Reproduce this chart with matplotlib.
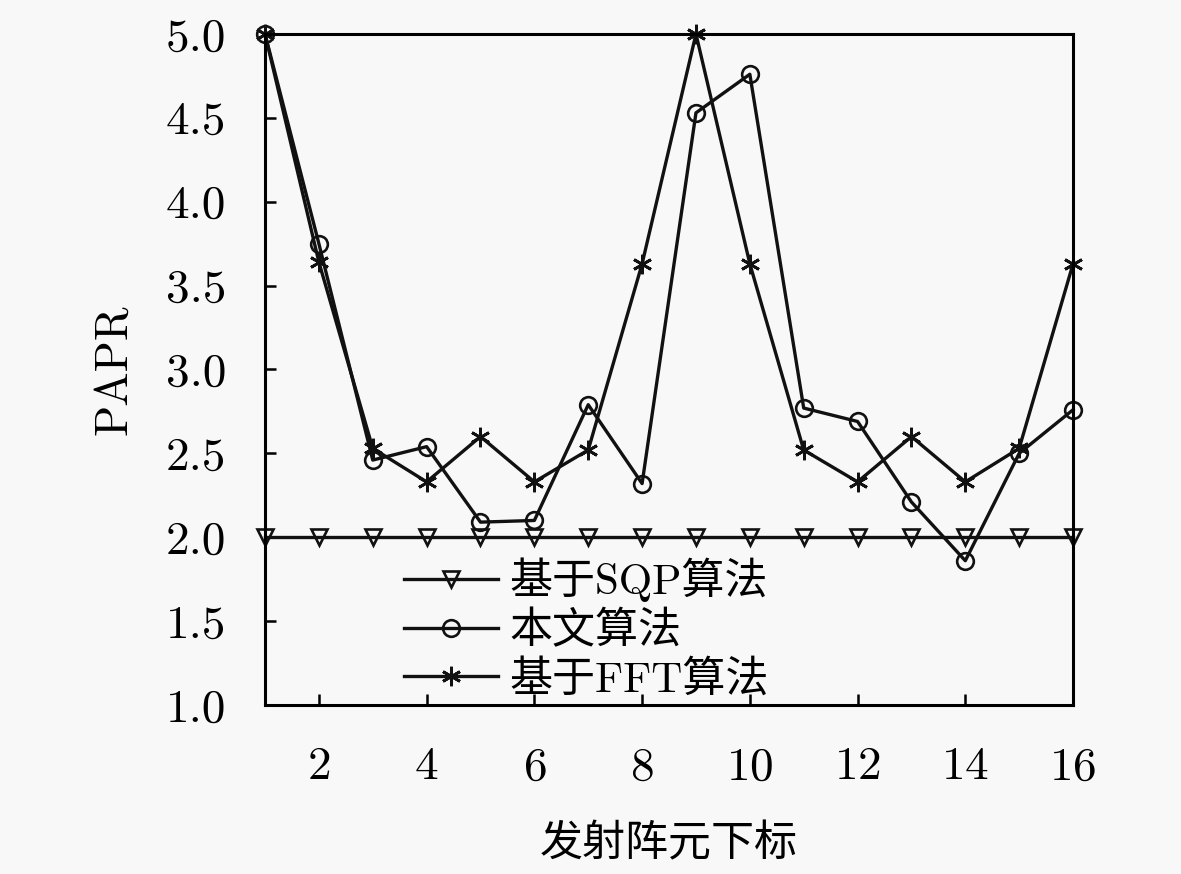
import matplotlib.pyplot as plt
import numpy as np

plt.rcParams['font.family'] = ['cmr10', 'Noto Sans CJK SC']
plt.rcParams['axes.formatter.use_mathtext'] = True

idx = np.arange(1, 17)
sqp = [2.0] * 16
ours = [5.0, 3.75, 2.46, 2.54, 2.09, 2.10, 2.79, 2.32,
        4.53, 4.76, 2.77, 2.69, 2.21, 1.86, 2.50, 2.76]
fft = [5.0, 3.64, 2.53, 2.33, 2.60, 2.33, 2.52, 3.63,
       5.0, 3.63, 2.52, 2.33, 2.60, 2.33, 2.53, 3.63]
labels = ['基于SQP算法', '本文算法', '基于FFT算法']

fig = plt.figure(figsize=(11.81, 8.74), dpi=100, facecolor='#f8f8f8')
ax = fig.add_axes([0.2244, 0.1934, 0.6842, 0.7677], facecolor='#f8f8f8')

ax.plot(idx, sqp, color='#111111', lw=2.4, marker='v', ms=11,
        mfc='none', mew=1.9, label=labels[0], clip_on=False)
ax.plot(idx, ours, color='#111111', lw=2.4, marker='o', ms=12,
        mfc='none', mew=1.9, label=labels[1], clip_on=False)
ax.plot(idx, fft, color='#111111', lw=2.4, marker=(6, 2, 0), ms=14,
        mew=2.0, label=labels[2], clip_on=False)

ax.set_xlim(1, 16)
ax.set_ylim(1.0, 5.0)
ax.set_xticks(range(2, 17, 2))
ax.set_yticks(np.arange(1.0, 5.01, 0.5))
ax.set_yticklabels([f'{v:.1f}' for v in np.arange(1.0, 5.01, 0.5)])
ax.tick_params(direction='in', length=8, width=1.8, labelsize=34,
               top=False, right=False)
ax.tick_params(axis='y', pad=28)
ax.tick_params(axis='x', pad=30)
for s in ax.spines.values():
    s.set_linewidth(2.2)

ax.set_xlabel('发射阵元下标', fontsize=31, labelpad=26)
ax.set_ylabel('PAPR', fontsize=33, labelpad=22)

leg = ax.legend(loc='upper left', bbox_to_anchor=(0.145, 0.252), frameon=False,
                fontsize=31, handlelength=2.2, handletextpad=0.25,
                labelspacing=0.2, borderpad=0)

fig.savefig('out.png', dpi=100, facecolor=fig.get_facecolor())
